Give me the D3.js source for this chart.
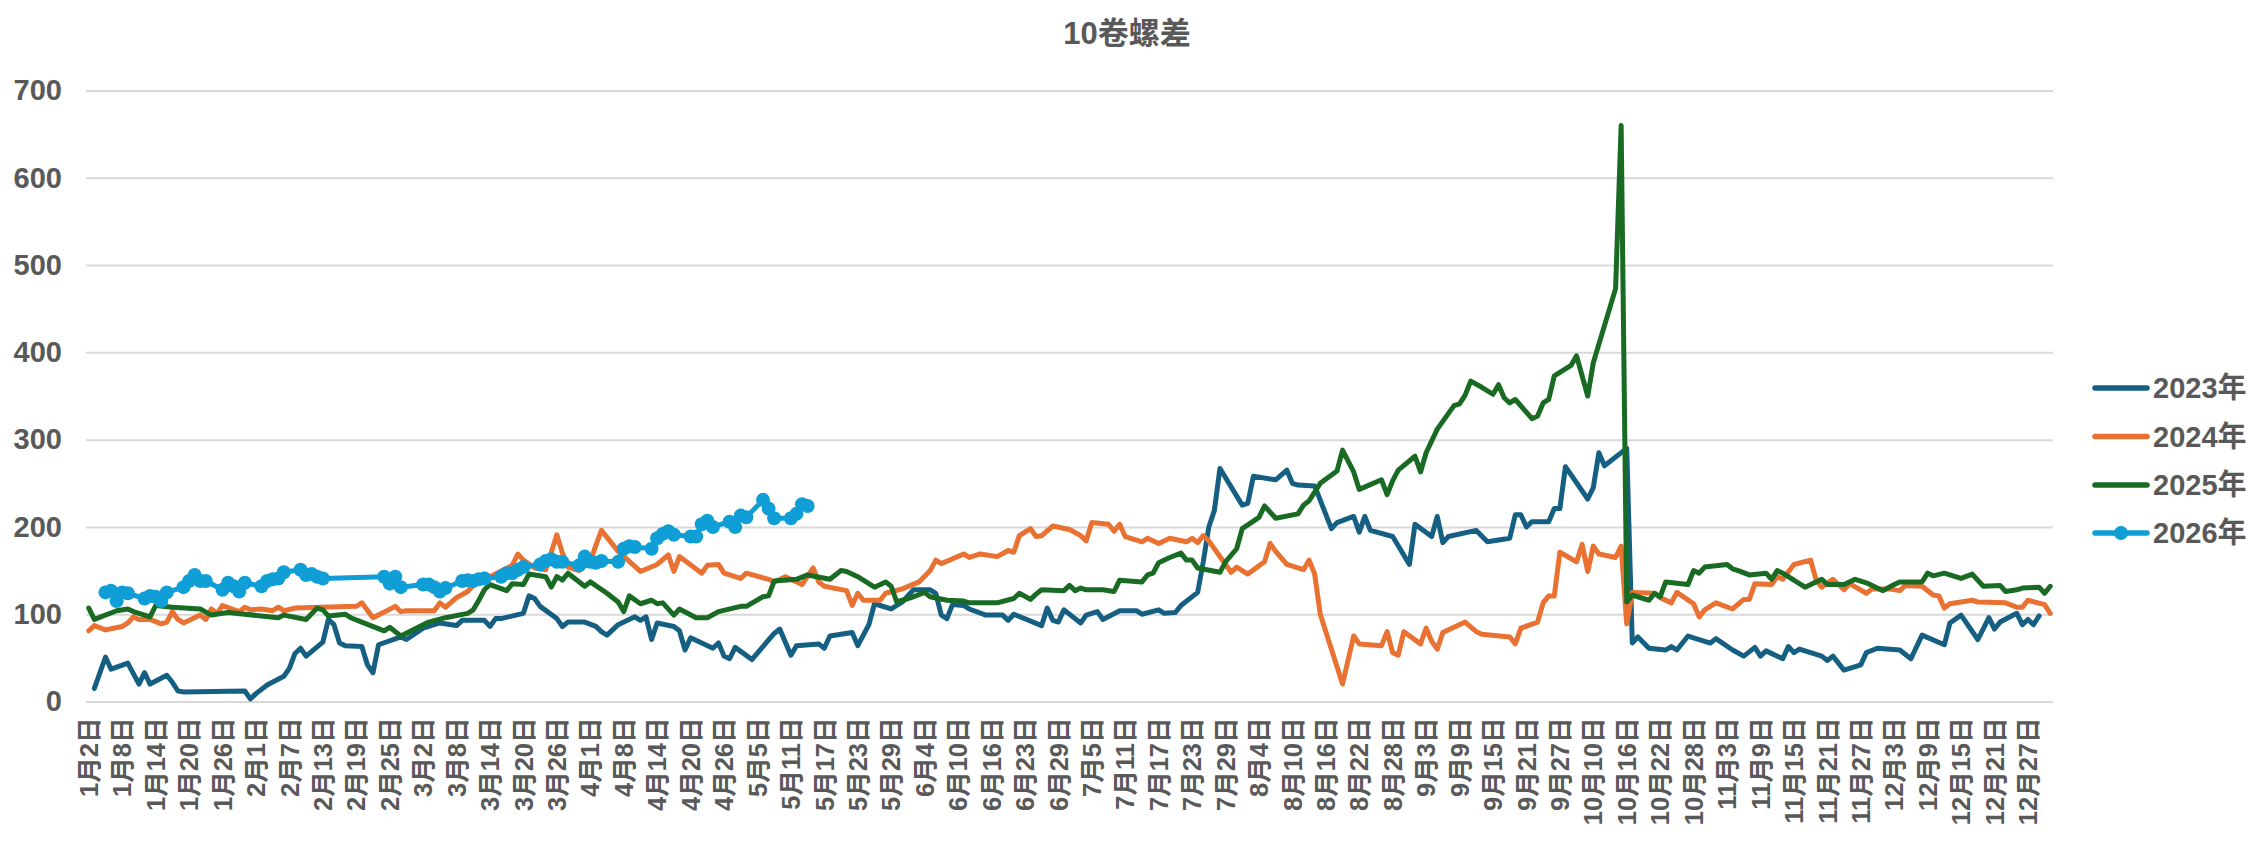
<!DOCTYPE html>
<html>
<head>
<meta charset="utf-8">
<script src="https://cdn.jsdelivr.net/npm/d3@7"></script>
<style>
  html, body { margin: 0; padding: 0; background: #fff; }
  svg { display: block; }
  text { font-family: "Liberation Sans", Arial, "Noto Sans CJK SC", sans-serif; font-weight: bold; fill: #595959; }
</style>
</head>
<body>
<svg id="chart" width="2254" height="842"></svg>
<script>
// Category axis: calendar days (leap-year calendar) from Jan 2, minus days with no data in any year
const skippedDays = ["4/5", "5/1", "5/2", "5/3", "6/22", "10/1", "10/2", "10/3", "10/4", "10/5", "10/6", "10/7"];
const monthLengths = [31, 29, 31, 30, 31, 30, 31, 31, 30, 31, 30, 31];

// Labelled categories on the x axis
const tickDates = ["1/2","1/8","1/14","1/20","1/26","2/1","2/7","2/13","2/19","2/25","3/2","3/8","3/14","3/20","3/26",
  "4/1","4/8","4/14","4/20","4/26","5/5","5/11","5/17","5/23","5/29","6/4","6/10","6/16","6/23","6/29",
  "7/5","7/11","7/17","7/23","7/29","8/4","8/10","8/16","8/22","8/28","9/3","9/9","9/15","9/21","9/27",
  "10/10","10/16","10/22","10/28","11/3","11/9","11/15","11/21","11/27","12/3","12/9","12/15","12/21","12/27"];

const yTicks = [0, 100, 200, 300, 400, 500, 600, 700];
const seriesNames = ["2023年", "2024年", "2025年", "2026年"];
const seriesColors = ["#156082", "#E97132", "#196B24", "#0F9ED5"];

const s2023 = [["1/3",15],["1/5",51],["1/6",37],["1/9",44],["1/10",32],["1/11",20],["1/12",33],["1/13",20],["1/16",30],["1/17",22],
  ["1/18",12],["1/19",11],["1/30",12],["1/31",3],["2/1",9],["2/3",19],["2/6",29],["2/7",38],["2/8",55],["2/9",61],["2/10",52],
  ["2/13",68],["2/14",94],["2/15",88],["2/16",67],["2/17",64],["2/20",63],["2/21",42],["2/22",33],["2/23",65],["2/27",74],["2/28",71],
  ["3/2",84],["3/5",90],["3/8",87],["3/9",93],["3/13",93],["3/14",86],["3/15",95],["3/16",95],["3/20",101],["3/21",121],["3/22",118],
  ["3/23",109],["3/26",95],["3/27",86],["3/28",91],["3/31",91],["4/2",86],["4/3",80],["4/4",76],["4/7",88],["4/10",97],["4/11",93],
  ["4/12",97],["4/13",71],["4/14",90],["4/17",86],["4/18",81],["4/19",59],["4/20",73],["4/24",61],["4/25",67],["4/26",52],["4/27",49],
  ["4/28",62],["5/4",48],["5/8",78],["5/9",83],["5/11",53],["5/12",64],["5/16",66],["5/17",61],["5/18",75],["5/22",79],["5/23",64],
  ["5/25",88],["5/26",112],["5/29",106],["5/31",114],["6/2",128],["6/5",128],["6/6",124],["6/7",99],["6/8",95],["6/9",111],["6/11",110],
  ["6/12",106],["6/15",99],["6/18",99],["6/19",93],["6/20",100],["6/26",87],["6/27",107],["6/28",93],["6/29",91],["6/30",105],["7/3",90],
  ["7/4",99],["7/6",103],["7/7",94],["7/10",104],["7/13",104],["7/14",100],["7/17",105],["7/18",101],["7/20",102],["7/21",110],["7/24",125],
  ["7/25",160],["7/26",200],["7/27",219],["7/28",267],["8/1",225],["8/2",227],["8/3",258],["8/7",254],["8/9",265],["8/10",250],["8/11",248],
  ["8/14",247],["8/17",198],["8/18",205],["8/21",212],["8/22",194],["8/23",212],["8/24",196],["8/28",189],["8/31",157],["9/1",203],
  ["9/4",189],["9/5",212],["9/6",182],["9/7",189],["9/12",196],["9/14",183],["9/18",187],["9/19",214],["9/20",214],["9/21",200],["9/22",206],
  ["9/25",206],["9/26",221],["9/27",221],["9/28",269],["10/9",232],["10/10",245],["10/11",285],["10/12",270],["10/16",290],["10/17",67],
  ["10/18",74],["10/20",61],["10/23",59],["10/24",63],["10/25",59],["10/27",75],["10/31",67],["11/1",72],["11/4",59],["11/6",52],
  ["11/8",62],["11/9",52],["11/10",58],["11/13",49],["11/14",63],["11/15",56],["11/16",60],["11/20",52],["11/21",47],["11/22",52],
  ["11/24",36],["11/27",42],["11/28",56],["11/30",61],["12/4",59],["12/6",49],["12/8",76],["12/12",65],["12/13",90],["12/15",99],
  ["12/18",71],["12/20",96],["12/21",83],["12/22",91],["12/25",101],["12/26",88],["12/27",94],["12/28",88],["12/29",98]];

const s2024 = [["1/2",81],["1/3",87],["1/5",82],["1/8",86],["1/9",90],["1/10",97],["1/11",94],["1/13",94],["1/15",89],["1/16",91],
  ["1/17",103],["1/18",94],["1/19",90],["1/22",99],["1/23",94],["1/24",106],["1/25",101],["1/26",110],["1/29",103],["1/30",108],
  ["1/31",105],["2/2",106],["2/4",104],["2/5",108],["2/6",104],["2/8",107],["2/19",109],["2/20",113],["2/22",96],["2/26",109],
  ["2/27",103],["2/28",104],["3/4",104],["3/5",113],["3/6",108],["3/8",119],["3/10",126],["3/12",140],["3/13",146],["3/14",143],
  ["3/18",156],["3/19",169],["3/20",162],["3/22",153],["3/24",151],["3/26",191],["3/27",170],["3/28",154],["3/30",150],["4/1",160],
  ["4/2",179],["4/3",196],["4/7",172],["4/11",149],["4/14",157],["4/16",168],["4/17",149],["4/18",166],["4/22",147],["4/23",156],
  ["4/25",157],["4/26",147],["4/29",141],["4/30",147],["5/7",140],["5/8",137],["5/10",143],["5/13",134],["5/15",153],["5/16",137],
  ["5/17",132],["5/21",127],["5/22",110],["5/23",124],["5/24",116],["5/27",116],["5/28",124],["5/31",129],["6/3",137],["6/5",150],
  ["6/6",162],["6/7",158],["6/11",169],["6/12",165],["6/14",169],["6/17",166],["6/19",173],["6/20",171],["6/21",190],["6/24",198],
  ["6/25",189],["6/26",190],["6/28",201],["7/1",197],["7/3",190],["7/4",184],["7/5",205],["7/8",203],["7/9",195],["7/10",203],
  ["7/11",189],["7/14",183],["7/15",187],["7/17",181],["7/19",187],["7/22",183],["7/23",187],["7/24",182],["7/25",190],["7/26",184],
  ["7/30",148],["7/31",154],["8/2",146],["8/5",160],["8/6",181],["8/7",172],["8/9",157],["8/12",151],["8/13",162],["8/14",146],
  ["8/15",100],["8/19",20],["8/21",75],["8/22",66],["8/26",64],["8/27",80],["8/28",56],["8/29",53],["8/30",80],["9/2",66],["9/3",84],
  ["9/4",69],["9/5",60],["9/6",79],["9/10",91],["9/12",80],["9/13",77],["9/18",74],["9/19",66],["9/20",84],["9/23",91],["9/24",113],
  ["9/25",121],["9/26",121],["9/27",171],["9/30",160],["10/8",180],["10/9",149],["10/10",178],["10/11",169],["10/14",165],["10/15",178],
  ["10/16",89],["10/17",125],["10/21",124],["10/22",119],["10/24",113],["10/25",125],["10/28",112],["10/29",97],["10/30",105],
  ["11/1",113],["11/4",106],["11/6",117],["11/7",117],["11/8",135],["11/11",134],["11/12",143],["11/13",140],["11/15",157],["11/18",162],
  ["11/19",139],["11/20",131],["11/22",140],["11/24",128],["11/25",135],["11/28",124],["11/29",129],["12/2",129],["12/4",127],["12/5",133],
  ["12/8",132],["12/10",122],["12/11",121],["12/12",107],["12/13",112],["12/17",116],["12/18",114],["12/23",113],["12/25",108],
  ["12/26",108],["12/27",116],["12/30",111],["12/31",101]];

const s2025 = [["1/2",107],["1/3",94],["1/7",104],["1/9",106],["1/10",103],["1/13",97],["1/14",110],["1/17",108],["1/22",106],["1/24",99],
  ["1/27",102],["2/5",96],["2/6",99],["2/10",94],["2/12",107],["2/13",105],["2/14",98],["2/17",100],["2/18",96],["2/20",91],["2/24",81],
  ["2/25",85],["2/27",75],["3/3",91],["3/6",96],["3/10",101],["3/11",105],["3/12",116],["3/13",128],["3/14",134],["3/17",127],["3/18",135],
  ["3/20",134],["3/21",146],["3/24",143],["3/25",131],["3/26",143],["3/27",139],["3/28",147],["3/31",132],["4/1",137],["4/4",124],
  ["4/7",114],["4/8",103],["4/9",121],["4/11",112],["4/13",116],["4/14",112],["4/15",113],["4/17",99],["4/18",106],["4/21",96],
  ["4/23",96],["4/25",103],["4/29",109],["4/30",109],["5/6",120],["5/7",121],["5/8",138],["5/12",140],["5/14",145],["5/18",140],
  ["5/20",150],["5/21",149],["5/23",143],["5/26",131],["5/28",137],["5/29",132],["5/30",114],["6/2",120],["6/4",125],["6/5",120],
  ["6/8",116],["6/11",115],["6/12",113],["6/17",113],["6/20",118],["6/21",124],["6/24",117],["6/25",123],["6/26",128],["6/30",127],
  ["7/1",133],["7/2",127],["7/3",130],["7/4",128],["7/7",128],["7/9",126],["7/10",139],["7/14",137],["7/15",145],["7/16",147],["7/17",159],
  ["7/19",165],["7/21",170],["7/22",162],["7/23",162],["7/24",153],["7/28",148],["7/29",160],["7/31",175],["8/1",198],["8/4",211],
  ["8/5",224],["8/7",210],["8/11",215],["8/12",225],["8/13",230],["8/15",250],["8/18",264],["8/19",288],["8/21",263],["8/22",243],
  ["8/26",254],["8/27",237],["8/28",253],["8/29",265],["9/1",281],["9/2",263],["9/3",285],["9/5",312],["9/8",339],["9/9",341],
  ["9/10",351],["9/11",367],["9/13",360],["9/15",352],["9/16",363],["9/17",348],["9/18",342],["9/19",346],["9/22",324],["9/23",327],
  ["9/24",342],["9/25",346],["9/26",373],["9/29",385],["9/30",396],["10/9",350],["10/10",388],["10/14",473],["10/15",660],["10/16",114],
  ["10/17",122],["10/20",116],["10/21",124],["10/22",120],["10/23",137],["10/27",134],["10/28",150],["10/29",147],["10/30",154],
  ["11/3",157],["11/4",152],["11/5",150],["11/7",145],["11/10",147],["11/11",140],["11/12",150],["11/13",147],["11/17",131],["11/20",140],
  ["11/21",134],["11/24",134],["11/26",140],["11/28",136],["12/1",127],["12/3",134],["12/4",137],["12/8",137],["12/9",147],["12/10",144],
  ["12/12",147],["12/15",141],["12/17",146],["12/19",132],["12/22",133],["12/23",126],["12/25",128],["12/26",130],["12/29",131],
  ["12/30",124],["12/31",132]];

const s2026 = [["1/5",125],["1/6",127],["1/7",115],["1/8",125],["1/9",124],["1/12",118],["1/13",121],["1/14",120],["1/15",115],["1/16",125],
  ["1/19",131],["1/20",138],["1/21",145],["1/22",138],["1/23",138],["1/26",128],["1/27",136],["1/28",132],["1/29",126],["1/30",136],
  ["2/2",132],["2/3",138],["2/4",140],["2/5",141],["2/6",148],["2/9",151],["2/10",145],["2/11",146],["2/12",143],["2/13",141],
  ["2/24",143],["2/25",135],["2/26",143],["2/27",131],["3/2",134],["3/3",134],["3/4",131],["3/5",126],["3/6",130],["3/9",138],
  ["3/10",139],["3/11",138],["3/12",140],["3/13",141],["3/16",143],["3/17",147],["3/18",147],["3/19",151],["3/20",154],["3/23",157],
  ["3/24",161],["3/25",163],["3/26",160],["3/27",160],["3/30",156],["3/31",166],["4/1",160],["4/2",159],["4/3",161],["4/7",160],
  ["4/8",175],["4/9",178],["4/10",177],["4/13",175],["4/14",187],["4/15",192],["4/16",195],["4/17",191],["4/20",189],["4/21",189],
  ["4/22",203],["4/23",207],["4/24",200],["4/27",206],["4/28",200],["4/29",213],["4/30",211],["5/6",231],["5/7",221],["5/8",210],
  ["5/11",210],["5/12",215],["5/13",226],["5/14",224]];

const allSeries = [s2023, s2024, s2025, s2026];

// ---- build the category list ----
const categories = [];
monthLengths.forEach((len, m) => {
  for (let d = (m === 0 ? 2 : 1); d <= len; d++) {
    const key = (m + 1) + "/" + d;
    if (!skippedDays.includes(key)) categories.push(key);
  }
});
const fmtLabel = key => { const [m, d] = key.split("/"); return m + "月" + d + "日"; };

// ---- layout ----
const W = 2254, H = 842;
const plot = { left: 86, right: 2053, top: 90.5, bottom: 701.5 };
const svg = d3.select("#chart");
svg.append("rect").attr("width", W).attr("height", H).attr("fill", "#fff");

const x = d3.scaleBand().domain(categories).range([plot.left, plot.right]).paddingInner(0).paddingOuter(0);
const xc = key => x(key) + x.bandwidth() / 2;
const y = d3.scaleLinear().domain([0, 700]).range([plot.bottom, plot.top]);

// title
svg.append("text").attr("x", 1127).attr("y", 44).attr("text-anchor", "middle")
  .style("font-size", "31px").text("10卷螺差");

// horizontal gridlines and y labels
const yAxis = d3.axisLeft(y).tickValues(yTicks).tickSize(-(plot.right - plot.left)).tickPadding(24);
const gy = svg.append("g").attr("transform", `translate(${plot.left},0)`).call(yAxis);
gy.select(".domain").remove();
gy.selectAll(".tick line").attr("stroke", "#d9d9d9").attr("stroke-width", 2);
gy.selectAll(".tick text").style("font-size", "29px").attr("fill", "#595959")
  .style("font-family", "'Liberation Sans', Arial, sans-serif").style("font-weight", "bold");

// x labels (rotated), every sixth category
const xAxis = d3.axisBottom(x).tickValues(tickDates).tickSize(0).tickFormat(fmtLabel);
const gx = svg.append("g").attr("transform", `translate(0,${plot.bottom})`).call(xAxis);
gx.select(".domain").remove();
gx.selectAll(".tick text")
  .attr("transform", "rotate(-90)")
  .attr("text-anchor", "end")
  .attr("x", -16).attr("y", 0).attr("dy", "0.36em")
  .attr("fill", "#595959")
  .style("font-size", "25.5px")
  .style("font-family", "'Liberation Sans', Arial, 'Noto Sans CJK SC', sans-serif")
  .style("font-weight", "bold");

// series lines
const line = d3.line().x(d => xc(d[0])).y(d => y(d[1]));
allSeries.forEach((s, k) => {
  svg.append("path").datum(s)
    .attr("fill", "none")
    .attr("stroke", seriesColors[k])
    .attr("stroke-width", 5)
    .attr("stroke-linejoin", "round")
    .attr("stroke-linecap", "round")
    .attr("d", line);
});

// markers on the latest year
svg.append("g").selectAll("circle").data(s2026).join("circle")
  .attr("cx", d => xc(d[0])).attr("cy", d => y(d[1])).attr("r", 7)
  .attr("fill", seriesColors[3]);

// legend
const legendY = [388, 436.5, 485, 533];
const lg = svg.append("g");
seriesNames.forEach((name, k) => {
  const g = lg.append("g").attr("transform", `translate(0,${legendY[k]})`);
  g.append("line").attr("x1", 2095).attr("x2", 2147).attr("y1", 0).attr("y2", 0)
    .attr("stroke", seriesColors[k]).attr("stroke-width", 5.5).attr("stroke-linecap", "round");
  if (k === 3) g.append("circle").attr("cx", 2121).attr("cy", 0).attr("r", 7).attr("fill", seriesColors[k]);
  g.append("text").attr("x", 2153).attr("y", 0).attr("dy", "0.36em")
    .style("font-size", "29px").text(name);
});
</script>
</body>
</html>
